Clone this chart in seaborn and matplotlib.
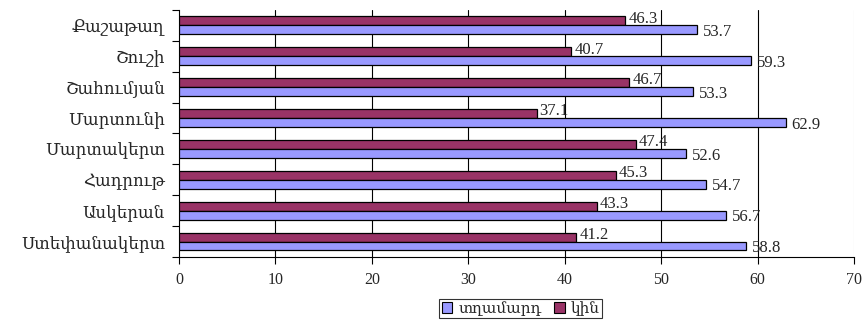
import matplotlib
matplotlib.use("Agg")
import matplotlib.pyplot as plt
import seaborn as sns
import pandas as pd
from matplotlib.patches import Patch
from matplotlib.ticker import FixedLocator

regions = ["Քաշաթաղ", "Շուշի", "Շահումյան", "Մարտունի", "Մարտակերտ", "Հադրութ", "Ասկերան", "Ստեփանակերտ"]
men = [53.7, 59.3, 53.3, 62.9, 52.6, 54.7, 56.7, 58.8]
women = [46.3, 40.7, 46.7, 37.1, 47.4, 45.3, 43.3, 41.2]
series_names = ["տղամարդ", "կին"]
colors = {"տղամարդ": "#9999FF", "կին": "#993366"}
x_ticks = [0, 10, 20, 30, 40, 50, 60, 70]

sns.set_theme(style="white")
FAM = ["Liberation Serif", "DejaVu Serif"]
plt.rcParams["font.family"] = FAM

df = pd.DataFrame({
    "region": regions * 2,
    "value": men + women,
    "sex": [series_names[0]] * len(regions) + [series_names[1]] * len(regions),
})

fig = plt.figure(figsize=(8.68, 3.2), dpi=100)
ax = fig.add_axes([0.2062, 0.197, 0.7777, 0.772])

sns.barplot(data=df, y="region", x="value", hue="sex", order=regions,
            hue_order=["կին", "տղամարդ"], palette=colors, saturation=1, orient="h",
            width=0.58, gap=0, edgecolor="black", linewidth=0.9,
            legend=False, ax=ax, zorder=3)

ax.set_xlim(0, 70)
ax.set_ylim(len(regions) - 0.5, -0.5)
ax.set_xticks(x_ticks)
ax.set_xticklabels([str(t) for t in x_ticks], fontsize=11.5)
ax.set_xlabel("")
ax.set_ylabel("")
for t in x_ticks[1:-1]:
    ax.axvline(t, color="black", lw=0.8, zorder=1)
ax.axvline(70, color="#d0d0d0", lw=0.8, zorder=1)

ax.yaxis.set_minor_locator(FixedLocator([i - 0.5 for i in range(len(regions) + 1)]))
ax.tick_params(axis="y", which="major", length=0, labelsize=12, pad=10)
ax.tick_params(axis="y", which="minor", length=5, width=0.8, color="black", direction="out", left=True)
ax.tick_params(axis="x", length=5, width=0.8, color="black", direction="out", bottom=True, labelsize=11.5, pad=6)
for lab in ax.get_yticklabels():
    lab.set_family(FAM)

for s in ["top", "right"]:
    ax.spines[s].set_visible(False)
for s in ["left", "bottom"]:
    ax.spines[s].set_color("black")
    ax.spines[s].set_linewidth(0.8)

# value labels
c_women, c_men = ax.containers[0], ax.containers[1]
for p in c_women:
    ax.text(p.get_width() + 0.3, p.get_y() + p.get_height() * 0.25, f"{p.get_width():.1f}",
            ha="left", va="center", fontsize=12, family=FAM, zorder=5)
for p in c_men:
    ax.text(p.get_width() + 0.6, p.get_y() + p.get_height() * 0.75, f"{p.get_width():.1f}",
            ha="left", va="center", fontsize=12, family=FAM, zorder=5)

handles = [Patch(facecolor=colors[n], edgecolor="black", lw=0.8) for n in series_names]
leg = fig.legend(handles, series_names, loc="center", bbox_to_anchor=(0.6, 0.036), ncol=2,
                 frameon=True, fancybox=False, edgecolor="black",
                 handlelength=0.7, handleheight=0.7, handletextpad=0.4, columnspacing=0.8,
                 borderpad=0.15, prop={"family": FAM, "size": 11})
leg.get_frame().set_linewidth(0.8)

fig.savefig("out.png", dpi=100)
